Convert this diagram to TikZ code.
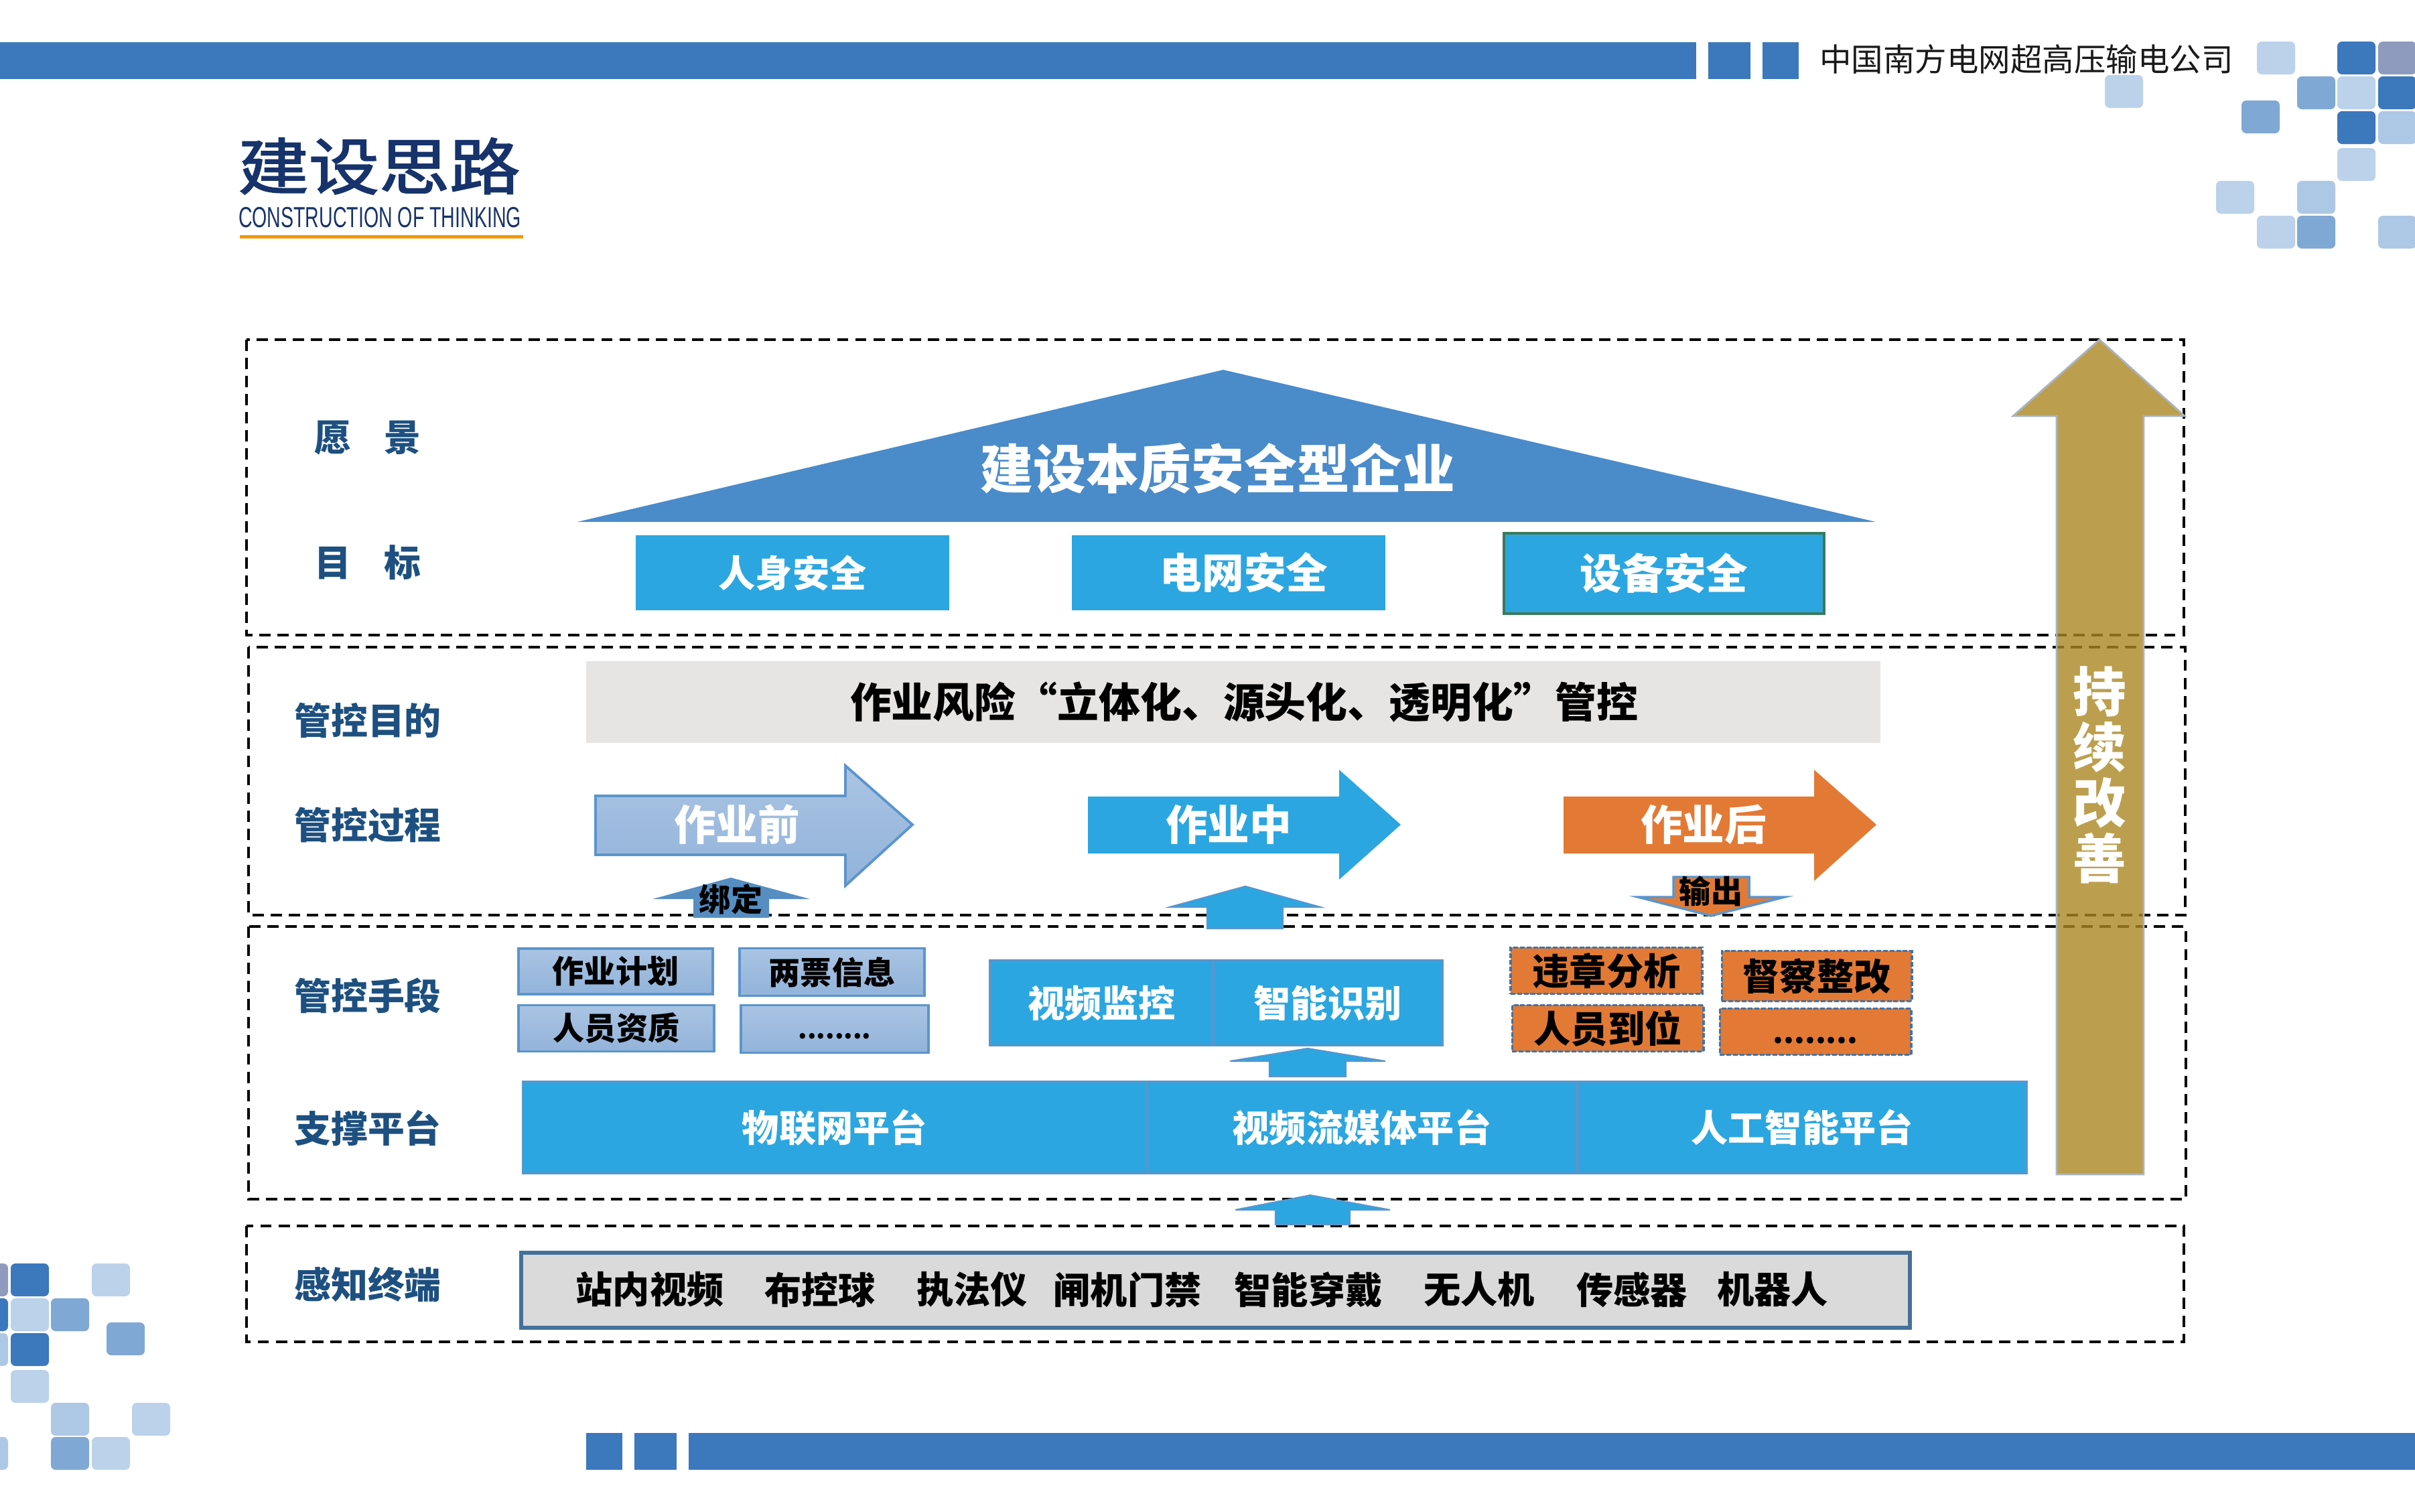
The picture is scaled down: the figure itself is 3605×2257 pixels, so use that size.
\documentclass[tikz,border=0pt]{standalone}
\usepackage{fontspec}
\setmainfont{Noto Sans CJK SC}
\newfontfamily\latinfont{Liberation Sans}
\newfontfamily\titlefont[FakeBold=2]{Noto Sans CJK SC}
\definecolor{barblue}{HTML}{3B78BC}
\definecolor{tiledark}{HTML}{3B78BC}
\definecolor{tilemid}{HTML}{80A8D5}
\definecolor{tilesoft}{HTML}{ADC8E5}
\definecolor{tilelight}{HTML}{BBD2EA}
\definecolor{tilegrey}{HTML}{8E9BBF}
\definecolor{titleblue}{HTML}{17336B}
\definecolor{ruleorange}{HTML}{F39800}
\definecolor{labelblue}{HTML}{1D5080}
\definecolor{houseblue}{HTML}{4A8BCA}
\definecolor{skyblue}{HTML}{2BA6E0}
\definecolor{edgeblue}{HTML}{5B95CC}
\definecolor{paleblue}{HTML}{AAC4E3}
\definecolor{duskblue}{HTML}{92B3DA}
\definecolor{workorange}{HTML}{E27A35}
\definecolor{checkedge}{HTML}{3F74A8}
\definecolor{barfill}{HTML}{E6E5E3}
\definecolor{termfill}{HTML}{DADADA}
\definecolor{termedge}{HTML}{44719B}
\definecolor{deviceedge}{HTML}{3C7A5A}
\definecolor{gold}{HTML}{AB8722}
\definecolor{goldedge}{HTML}{A9B4BF}
\tikzset{
  tile/.style={rounded corners=0.07cm},
  dashbox/.style={draw=black,line width=1.4pt,dash pattern=on 4.8pt off 2.9pt},
  cjk/.style={inner sep=0pt,outer sep=0pt,font=\bfseries\fontsize{#1}{#1}\selectfont,
    execute at begin node={\vrule height .85em depth .1em width 0pt}},
  sidelabel/.style={cjk=15.6,text=labelblue},
  whitelabel/.style={cjk=#1,text=white},
  blacklabel/.style={cjk=#1,text=black},
  skybox/.style={cjk=#1,text=white,fill=skyblue},
  toolbox/.style={cjk=13.4,text=black,draw=edgeblue,line width=1.1pt,top color=paleblue,bottom color=duskblue},
  checkbox/.style={cjk=15.7,text=black,fill=workorange,draw=checkedge,line width=1.1pt,dash pattern=on 2pt off 0.8pt},
}
\begin{document}
\begin{tikzpicture}[x=0.01cm,y=-0.01cm]
  \useasboundingbox (0,0) rectangle (3605,2257);
  \fill[barblue] (0,63) rectangle (2532,118);
  \fill[barblue] (2550,63) rectangle (2613,118);
  \fill[barblue] (2631,63) rectangle (2685,118);
  \fill[barblue] (875,2139) rectangle (929,2194);
  \fill[barblue] (947,2139) rectangle (1010,2194);
  \fill[barblue] (1028,2139) rectangle (3605,2194);
  \foreach \x/\y/\c in {3369/62/tilelight,3489/62/tiledark,3550/62/tilegrey,3142/112/tilelight,
      3429/114/tilemid,3489/114/tilelight,3550/114/tiledark,3346/150/tilemid,3489/166/tiledark,
      3550/166/tilesoft,3489/221/tilelight,3308/270/tilelight,3429/270/tilesoft,3369/322/tilelight,
      3429/322/tilemid,3550/322/tilesoft,
      -45/1886/tilegrey,16/1886/tiledark,137/1886/tilelight,-45/1938/tiledark,16/1938/tilelight,
      76/1938/tilemid,159/1974/tilemid,-45/1990/tilesoft,16/1990/tiledark,16/2045/tilelight,
      76/2094/tilesoft,197/2094/tilelight,-45/2145/tilesoft,76/2145/tilemid,137/2145/tilelight}
    \fill[tile,\c] (\x,\y) rectangle ++(57,49);
  \node[inner sep=0pt,font=\fontsize{13.5}{13.5}\selectfont,text=black!90] (company) at (3025,88) {中国南方电网超高压输电公司};
  \node[inner sep=0pt,xscale=1.15,font=\titlefont\fontsize{26}{26}\selectfont,text=titleblue] (title) at (566,248) {建设思路};
  \node[inner sep=0pt,xscale=0.66,font=\latinfont\fontsize{12.3}{12.3}\selectfont,text=titleblue] (subtitle) at (567,325) {CONSTRUCTION OF THINKING};
  \fill[ruleorange] (358,351) rectangle (781,356);

  \draw[dashbox] (368,507) rectangle (3260,948);
  \draw[dashbox] (371,966) rectangle (3262,1366);
  \draw[dashbox] (371,1383) rectangle (3263,1790);
  \draw[dashbox] (368,1830) rectangle (3260,2003);

  \node[sidelabel] (vision) at (549,653) {愿\hspace{.9em}景};
  \node[sidelabel] (goal) at (549,840) {目\hspace{.9em}标};
  \node[sidelabel] (purpose) at (549,1076) {管控目的};
  \node[sidelabel] (process) at (549,1231) {管控过程};
  \node[sidelabel] (means) at (549,1486) {管控手段};
  \node[sidelabel] (platform) at (549,1684) {支撑平台};
  \node[sidelabel] (sensing) at (549,1918) {感知终端};

  \fill[houseblue] (1826,552) -- (2800,779) -- (862,779) -- cycle;
  \node[whitelabel=22.4] (house) at (1818,699) {建设本质安全型企业};
  \node[skybox=15.7,minimum width=4.67cm,minimum height=1.11cm] (person) at (1183,855) {人身安全};
  \node[skybox=17.8,minimum width=4.68cm,minimum height=1.11cm] (grid) at (1834,855) {\hspace*{0.46cm}电网安全};
  \node[skybox=17.8,minimum width=4.78cm,minimum height=1.2cm,draw=deviceedge,line width=1pt] (device) at (2484,856) {设备安全};

  \node[blacklabel=17.6,fill=barfill,minimum width=19.3cm,minimum height=1.22cm] (control) at (1841,1048) {\hspace*{0.32cm}作业风险“立体化、源头化、透明化”管控};

  \draw[edgeblue,line width=1.1pt,top color=paleblue,bottom color=duskblue]
    (889,1188) -- (1262,1188) -- (1262,1143) -- (1362,1231) -- (1262,1322) -- (1262,1276) -- (889,1276) -- cycle;
  \fill[skyblue] (1624,1189) -- (1999,1189) -- (1999,1149) -- (2091,1231) -- (1999,1313) -- (1999,1274) -- (1624,1274) -- cycle;
  \fill[workorange] (2334,1189) -- (2708,1189) -- (2708,1149) -- (2801,1231) -- (2708,1315) -- (2708,1274) -- (2334,1274) -- cycle;
  \node[whitelabel=17.8] (before) at (1100,1231) {作业前};
  \node[whitelabel=17.8] (during) at (1834,1231) {作业中};
  \node[whitelabel=17.8] (after) at (2543,1231) {作业后};

  \fill[edgeblue!95!black] (1091,1310) -- (1209,1342) -- (1148,1342) -- (1148,1370) -- (1035,1370) -- (1035,1342) -- (974,1342) -- cycle;
  \node[blacklabel=13.4] (bind) at (1091,1342) {绑定};
  \draw[edgeblue,line width=0.6pt,fill=skyblue] (1859,1323) -- (1971,1354) -- (1915,1354) -- (1915,1386) -- (1802,1386) -- (1802,1354) -- (1746,1354) -- cycle;
  \draw[edgeblue,line width=1pt,fill=workorange] (2554,1367) -- (2664,1339) -- (2611,1339) -- (2611,1309) -- (2498,1309) -- (2498,1339) -- (2445,1339) -- cycle;
  \node[blacklabel=13.4] (output) at (2554,1330) {输出};

  \node[toolbox,minimum width=2.9cm,minimum height=0.68cm] (plan) at (919,1450) {作业计划};
  \node[toolbox,minimum width=2.75cm,minimum height=0.71cm] (tickets) at (1242,1451) {两票信息};
  \node[toolbox,minimum width=2.91cm,minimum height=0.69cm] (staff) at (920,1535) {人员资质};
  \node[toolbox,cjk=11,minimum width=2.8cm,minimum height=0.71cm] (moretools) at (1246,1536) {........};

  \node[skybox=15.7,draw=edgeblue,line width=1pt,minimum width=3.33cm,minimum height=1.27cm] (monitor) at (1644.5,1497) {视频监控};
  \node[skybox=15.7,draw=edgeblue,line width=1pt,minimum width=3.42cm,minimum height=1.27cm] (recog) at (1982,1497) {智能识别};

  \node[checkbox,minimum width=2.86cm,minimum height=0.69cm] (violation) at (2398,1449) {违章分析};
  \node[checkbox,minimum width=2.85cm,minimum height=0.69cm] (onsite) at (2400,1535) {人员到位};
  \node[checkbox,minimum width=2.83cm,minimum height=0.75cm] (rectify) at (2712,1457) {督察整改};
  \node[checkbox,cjk=12.9,minimum width=2.85cm,minimum height=0.69cm] (morechecks) at (2710,1540) {........};

  \draw[edgeblue,line width=0.6pt,fill=skyblue] (1952,1565) -- (2068,1584) -- (2009,1584) -- (2009,1607) -- (1895,1607) -- (1895,1584) -- (1836,1584) -- cycle;

  \node[skybox=15.7,draw=edgeblue,line width=1pt,minimum width=9.3cm,minimum height=1.37cm] (iot) at (1246,1683) {物联网平台};
  \node[skybox=15.7,draw=edgeblue,line width=1pt,minimum width=6.42cm,minimum height=1.37cm] (stream) at (2033,1683) {视频流媒体平台};
  \node[skybox=15.7,draw=edgeblue,line width=1pt,minimum width=6.7cm,minimum height=1.37cm] (ai) at (2690,1683) {人工智能平台};

  \draw[edgeblue,line width=0.6pt,fill=skyblue] (1956,1784) -- (2075,1806) -- (2015,1806) -- (2015,1828) -- (1904,1828) -- (1904,1806) -- (1844,1806) -- cycle;

  \draw[draw=termedge,line width=1.5pt,fill=termfill] (778,1870) rectangle (2851,1982);
  \foreach \name/\cx/\word in {station/970/站内视频,dome/1224/布控球,recorder/1451/执法仪,gate/1683/闸机门禁,
      wear/1953/智能穿戴,drone/2208/无人机,sensor/2436/传感器,robot/2646/机器人}
    \node[blacklabel=15.7] (\name) at (\cx,1925) {\word};

  \draw[goldedge,line width=0.8pt,fill=gold,fill opacity=0.8]
    (3134,507) -- (3261,621) -- (3200,621) -- (3200,1753) -- (3070,1753) -- (3070,621) -- (3005,621) -- cycle;
  \node[cjk=22.6,text=white,align=center,font=\bfseries\fontsize{22.6}{23.6}\selectfont,execute at begin node={}] (improve) at (3134,1157) {持\\续\\改\\善};
\end{tikzpicture}
\end{document}
